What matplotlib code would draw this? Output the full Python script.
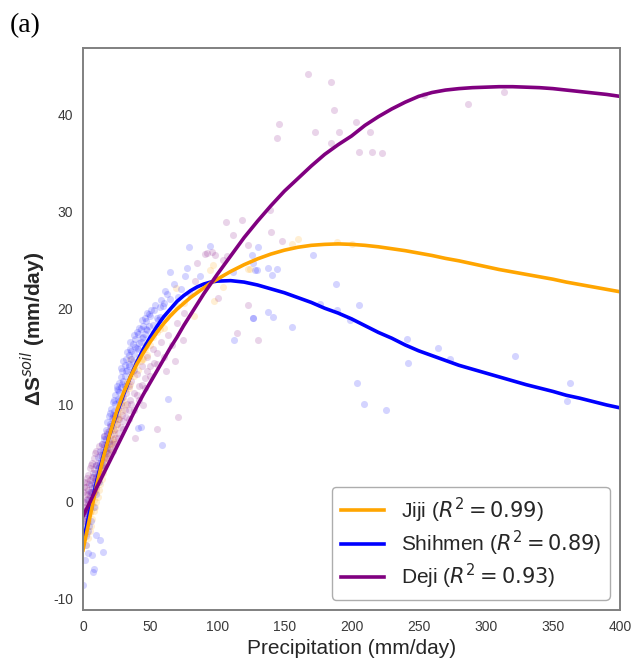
import matplotlib
matplotlib.use("Agg")
import matplotlib.pyplot as plt

# ---- fitted curves ----
curve_x = [0, 5, 10, 15, 20, 25, 30, 35, 40, 45, 50, 55, 60, 65, 70, 75, 80,
           85, 90, 95, 100, 110, 120, 130, 140, 150, 160, 170, 180, 190, 200,
           210, 220, 230, 240, 250, 260, 270, 280, 290, 300, 310, 320, 330,
           340, 350, 360, 370, 380, 390, 400]
jiji_curve = [-5.0, -1.7, 1.6, 4.5, 7.0, 9.3, 11.2, 12.8, 14.2, 15.4, 16.5,
              17.5, 18.4, 19.2, 19.9, 20.5, 21.1, 21.6, 22.1, 22.6, 23.0,
              23.8, 24.5, 25.1, 25.6, 26.0, 26.3, 26.5, 26.6, 26.65, 26.6,
              26.5, 26.35, 26.15, 25.95, 25.7, 25.45, 25.15, 24.9, 24.6, 24.3,
              24.0, 23.75, 23.5, 23.25, 23.0, 22.7, 22.45, 22.2, 21.95, 21.7]
shihmen_curve = [-4.3, -1.0, 2.0, 4.7, 7.0, 9.1, 11.0, 12.8, 14.4, 15.8, 17.0,
                 18.1, 19.1, 19.9, 20.7, 21.3, 21.8, 22.2, 22.5, 22.7, 22.8,
                 22.85, 22.7, 22.4, 22.0, 21.6, 21.1, 20.6, 20.0, 19.5, 18.9,
                 18.2, 17.5, 16.9, 16.2, 15.6, 15.1, 14.6, 14.1, 13.7, 13.3,
                 12.9, 12.5, 12.1, 11.75, 11.4, 11.0, 10.7, 10.35, 10.0, 9.7]
deji_curve = [-1.5, -0.1, 1.4, 2.8, 4.2, 5.6, 7.0, 8.4, 9.8, 11.1, 12.3, 13.5,
              14.7, 15.9, 17.0, 18.2, 19.3, 20.4, 21.5, 22.5, 23.5, 25.4,
              27.3, 29.0, 30.6, 32.1, 33.4, 34.7, 35.9, 36.9, 37.8, 38.9,
              39.8, 40.6, 41.3, 41.9, 42.3, 42.55, 42.7, 42.8, 42.85, 42.9,
              42.9, 42.85, 42.8, 42.7, 42.55, 42.4, 42.25, 42.1, 41.9]

# ---- observations ----
jiji_x = [3, 4, 5, 6, 7, 8, 9, 10, 11, 12, 13, 14, 15, 16, 17, 18, 19, 20,
          21, 22, 23, 24, 25, 26, 27, 28, 30, 32, 34, 36, 38, 40, 43, 46, 50,
          55, 60, 65, 35, 69.3, 97.8, 104.5, 94.6, 97, 123.1, 124.4, 82.9,
          160.4, 155.4, 189, 200, 23, 29, 31, 44, 48,
          2, 3, 4, 5, 6, 7, 8, 9, 10, 11, 12, 13, 14, 15, 16, 17, 18, 19, 20,
          21, 22, 23, 24, 25, 26, 27, 29, 31, 33, 35, 37, 39, 41, 42, 45, 47,
          52, 57, 62, 70, 75, 85]
jiji_y = [-3.2, -2.0, -3.0, -1.0, -1.8, 0.2, -0.5, 1.2, 0.5, 2.5, 1.8, 3.5,
          3.0, 4.6, 4.0, 5.6, 5.0, 6.5, 6.0, 7.6, 7.0, 8.5, 8.0, 9.5, 8.8,
          10.2, 10.5, 11.9, 11.8, 13.2, 13.0, 14.4, 14.5, 15.8, 16.2, 17.5,
          18.0, 19.5, 14.8, 22.1, 20.7, 22.2, 23.9, 24.5, 24.1, 24.1, 19.2,
          27.2, 26.6, 26.8, 26.6, 6.2, 9.4, 10.0, 14.8, 15.2,
          -4.5, -2.2, -3.8, -1.2, -2.5, -0.2, -1.0, 1.0, 0.0, 2.0, 1.2, 3.2,
          2.3, 4.2, 3.6, 5.2, 4.6, 6.0, 5.5, 7.4, 6.5, 8.2, 7.5, 9.0, 8.5,
          10.0, 10.8, 11.5, 12.4, 12.2, 13.5, 14.0, 13.6, 15.0, 14.8, 16.2,
          17.0, 17.8, 19.0, 20.2, 20.5, 22.0]

shihmen_x = [0, 7.4, 8.5, 3.7, 6.5, 14.9, 12.4, 9.9, 1.2, 2.0, 0.5, 4.5, 1.5,
             1, 2, 3, 3.5, 4, 5, 5.5, 6, 7, 7.5, 8, 9, 9.5, 10, 11, 11.5, 12,
             13, 13.5, 14, 15, 15.5, 16, 17, 17.5, 18, 19, 19.5, 20, 21, 21.5,
             22, 23, 23.5, 24, 25, 26, 26.5, 27, 28, 28.5, 29, 30, 31, 31.5,
             32, 33, 34, 34.5, 35, 36, 37, 38, 39, 40, 41, 42, 43, 44, 45, 46,
             47, 48, 50, 52, 53, 55, 57, 60,
             79.2, 94.6, 64.8, 77.7, 76.2, 62.3, 59.8, 49.4, 57.4, 71, 87.2,
             112, 126.9, 128.4, 126.4, 112.5, 63.6, 58.6, 43.4, 40.9,
             130.6, 171.6, 138, 144.7, 141, 129.8, 188.5, 125.8, 176.5, 189,
             205.6, 198.9, 138.1, 141.8, 126.9, 155.4, 241.1, 264.7, 273.4,
             241.9, 321.8, 204.3, 209.5, 225.7, 362.8, 360.3,
             2, 3, 4, 5, 6, 7, 8, 9, 10, 11, 12, 13, 14, 15, 16, 17, 18, 19,
             20, 21, 22, 23, 24, 25, 26, 27, 28, 29, 30, 31, 32, 33, 34, 35,
             36, 37, 38, 39, 40, 41, 42, 43, 44, 45, 46, 47, 48, 49, 51, 54,
             56, 58, 61, 65, 68, 73, 53, 38, 28, 18]
shihmen_y = [-8.6, -7.3, -7.0, -5.3, -5.5, -5.2, -4.0, -3.4, -6.0, -4.5,
             -3.0, -2.5, -1.0,
             -2.5, -1.2, -2.0, 0.2, -0.8, 1.0, -0.3, 1.8, 0.5, 2.6, 1.5, 3.0,
             2.2, 3.8, 2.9, 4.6, 3.6, 5.2, 4.3, 6.0, 5.1, 6.8, 5.9, 7.4, 6.5,
             8.2, 7.3, 8.9, 8.0, 9.6, 8.6, 10.3, 9.4, 11.0, 10.1, 11.6, 10.6,
             12.3, 11.3, 12.9, 11.9, 13.5, 12.5, 14.1, 13.0, 14.7, 13.6, 15.2,
             14.2, 15.8, 14.8, 16.3, 15.3, 16.8, 15.9, 17.3, 16.4, 17.8, 16.9,
             18.2, 17.3, 18.7, 17.7, 19.2, 18.3, 19.8, 19.0, 20.1, 20.5,
             26.3, 26.4, 23.7, 24.2, 23.3, 21.5, 20.2, 19.4, 19.1, 21.2, 23.3,
             23.7, 24.7, 23.9, 19.0, 16.7, 10.6, 5.9, 7.7, 7.6,
             26.3, 25.5, 24.2, 24.1, 23.4, 23.9, 22.5, 25.5, 20.4, 19.8,
             20.3, 18.8, 19.6, 19.1, 19.0, 18.1, 16.8, 15.9, 14.7,
             14.3, 15.1, 12.3, 10.1, 9.5, 12.3, 10.4,
             -3.5, -1.5, -3.0, -0.5, -2.0, 1.0, -0.5, 1.8, 0.8, 3.5, 2.0, 4.0,
             4.8, 3.8, 6.5, 5.2, 7.0, 6.2, 9.2, 7.8, 9.0, 10.5, 9.0, 12.0,
             11.5, 10.4, 13.8, 12.2, 14.5, 12.0, 13.5, 15.5, 14.0, 16.5, 15.6,
             14.5, 17.2, 16.0, 17.5, 15.8, 18.0, 16.5, 18.8, 17.0, 19.0, 17.8,
             19.5, 18.2, 19.8, 20.3, 18.8, 20.8, 21.8, 21.0, 22.5, 22.0, 17.5,
             13.6, 10.6, 5.6]

deji_x = [0, 0.5, 1, 1.5, 2, 2.5, 3, 3.5, 4, 4.5, 5, 5.5, 6, 6.5, 7, 7.5, 8,
          8.5, 9, 9.5, 10, 11, 12, 13, 14, 15, 16, 17, 18, 19, 20, 21, 22, 23,
          24, 25, 26, 27, 28, 29, 30, 31, 32, 33, 34, 35, 36, 38, 40, 42, 44,
          46, 48, 50, 53, 55, 1, 2, 3, 4,
          54.9, 38.7, 71, 68.5, 74.2, 106.3, 118.2, 111.5, 123.1, 96, 90.9,
          85.1, 83.4, 100.8, 123.1, 114.5, 130.6, 107, 139.8, 148, 139.3,
          167.4, 184.7, 187, 203.4, 146.2, 144.5, 172.8, 190.9, 213.8, 184.7,
          205.8, 215.3, 222.5, 254.2, 286.8, 313.8, 92, 98, 104,
          0, 0.5, 1, 1.5, 2, 2.5, 3, 3.5, 4, 5, 5, 6, 6, 7, 8, 8, 9, 10, 10,
          11, 12, 13, 14, 15, 16, 17, 18, 19, 20, 22, 22, 24, 24, 26, 26, 28,
          30, 30, 32, 34, 34, 36, 38, 40, 42, 44, 46, 48, 50, 52, 55, 58, 60,
          63, 66, 70, 75, 80, 62, 45]
deji_y = [-0.5, -1.0, 0.0, -0.5, 0.8, -1.2, 0.3, 1.2, -0.2, 1.8, 0.6, 2.2,
          1.0, 2.6, 1.4, 3.0, 1.9, 3.4, 2.3, 3.8, 2.6, 4.0, 3.0, 4.8, 3.8,
          5.3, 4.4, 5.9, 5.0, 6.3, 5.4, 6.9, 6.0, 7.4, 6.6, 8.0, 7.1, 8.5,
          7.7, 9.0, 8.3, 9.5, 8.8, 10.1, 9.5, 10.5, 10.1, 11.2, 11.0, 12.0,
          12.1, 12.8, 13.5, 14.0, 14.3, 15.4, 1.5, -1.8, 2.0, 0.8,
          7.5, 6.6, 8.8, 14.5, 16.7, 28.9, 29.1, 27.6, 26.5, 25.8, 25.6,
          24.7, 22.8, 21.1, 20.3, 17.4, 16.7, 25.4, 27.9, 27.0, 30.2,
          44.2, 43.4, 40.5, 39.3, 39.0, 37.6, 38.2, 38.2, 38.2, 37.1,
          36.1, 36.2, 36.0, 42.0, 41.1, 42.4, 25.7, 25.5, 25.0,
          1.0, -2.0, 2.0, -1.5, 1.5, 0.2, 2.5, -0.8, 2.8, 3.5, -0.5, 3.8,
          0.2, 4.0, 4.5, 1.0, 5.0, 1.5, 5.2, 2.2, 5.8, 3.0, 6.0, 3.5, 6.8,
          4.5, 7.2, 4.8, 7.8, 8.5, 5.2, 9.0, 6.0, 9.6, 6.6, 10.0, 10.8, 7.5,
          11.2, 12.0, 8.5, 12.5, 9.5, 13.2, 10.5, 14.0, 11.8, 15.0, 13.0,
          15.8, 14.2, 16.5, 15.0, 17.2, 16.2, 18.5, 19.5, 21.5, 13.5, 10.0]

labels = ['Jiji ($R^2 = 0.99$)', 'Shihmen ($R^2 = 0.89$)',
          'Deji ($R^2 = 0.93$)']
colors = ['orange', 'blue', 'purple']

plt.rcParams['font.family'] = ['Liberation Sans', 'DejaVu Sans']
plt.rcParams['axes.unicode_minus'] = False

fig = plt.figure(figsize=(6.35, 6.62), dpi=100)
ax = fig.add_axes([0.1307, 0.0785, 0.8457, 0.849])

# scatter clouds
ax.scatter(jiji_x, jiji_y, s=26, color=colors[0], alpha=0.17, linewidths=0)
ax.scatter(shihmen_x, shihmen_y, s=26, color=colors[1], alpha=0.17, linewidths=0)
ax.scatter(deji_x, deji_y, s=26, color=colors[2], alpha=0.17, linewidths=0)

# fitted curves
l2, = ax.plot(curve_x, shihmen_curve, color=colors[1], lw=2.6, label=labels[1])
l1, = ax.plot(curve_x, jiji_curve, color=colors[0], lw=2.6, label=labels[0])
l3, = ax.plot(curve_x, deji_curve, color=colors[2], lw=2.6, label=labels[2])

ax.set_xlim(0, 400)
ax.set_ylim(-11.2, 46.9)
ax.set_xticks([0, 50, 100, 150, 200, 250, 300, 350, 400])
ax.set_yticks([-10, 0, 10, 20, 30, 40])
ax.tick_params(length=0, labelsize=10, labelcolor='#3a3a3a', pad=7)

for sp in ax.spines.values():
    sp.set_color('#808080')
    sp.set_linewidth(1.4)

ax.set_xlabel('Precipitation (mm/day)', fontsize=15, color='#262626',
              labelpad=4)
ax.set_ylabel('ΔS$^{soil}$ (mm/day)', fontsize=15, fontweight='bold',
              color='#262626', labelpad=4)

leg = ax.legend(handles=[l1, l2, l3], loc='lower right', fontsize=15,
                handlelength=2.1, frameon=True, fancybox=True,
                borderaxespad=0.5, labelspacing=0.2)
leg.get_frame().set_edgecolor('#999999')
for t in leg.get_texts():
    t.set_color('#262626')

fig.text(0.016, 0.952, '(a)', fontsize=20, family='Liberation Serif')

fig.savefig('out.png', dpi=100)
